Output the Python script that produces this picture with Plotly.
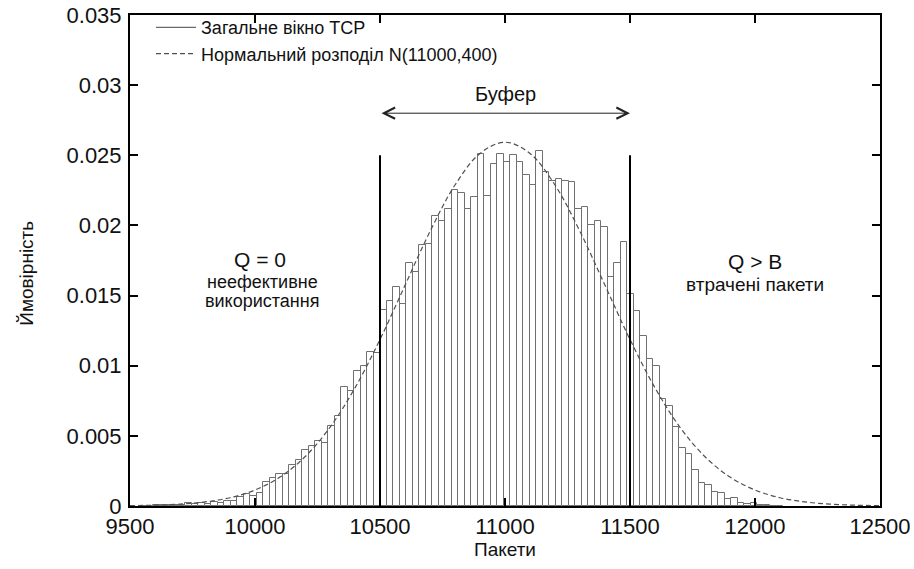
import plotly.graph_objects as go

# ---------------- data ----------------
bin_start = 9538          # left edge of the first histogram bin (packets)
bin_width = 26            # histogram bin width (packets)
probabilities = [
    # left tail
    0.00002, 0.00003, 0.00004, 0.00005, 0.00006, 0.00008, 0.0001,
    0.00019, 0.00015, 0.00024, 0.00015, 0.0003, 0.0002, 0.00038, 0.00038,
    0.00067, 0.00086, 0.00072,
    0.0009, 0.0017, 0.0020, 0.0023, 0.0023, 0.0029, 0.0033, 0.0040,
    0.0043, 0.0046, 0.0045,
    0.0057, 0.0064, 0.0085, 0.0082, 0.0096, 0.0100, 0.0110, 0.0109,
    # buffer region 10500..11500
    0.0140, 0.0146, 0.0156, 0.0144, 0.0173, 0.0167, 0.0186, 0.0187,
    0.0207, 0.0203, 0.0212, 0.0225, 0.0223, 0.0212, 0.0220, 0.0251,
    0.0221, 0.0244, 0.0251, 0.0245, 0.0250, 0.0245, 0.0236, 0.0229,
    0.0253, 0.0238, 0.0232, 0.0233, 0.0232, 0.0231, 0.0212, 0.0213,
    0.0200, 0.0203, 0.0199, 0.0163, 0.0173, 0.0188, 0.0151, 0.0139,
    # right tail
    0.0121, 0.0105, 0.0100, 0.0076, 0.0071, 0.0056, 0.0041, 0.0037,
    0.0026, 0.00166, 0.0015, 0.0010, 0.00095, 0.00048, 0.00055, 0.00024,
    0.00014, 0.00019, 0.00005, 0.00004, 0.00002, 0.00002,
]

# normal curve N(11000, 400) scaled to the bin width, read at 100-packet steps
normal_x = [9500, 9600, 9700, 9800, 9900, 10000, 10100, 10200, 10300, 10400,
            10500, 10600, 10700, 10800, 10900, 11000, 11100, 11200, 11300,
            11400, 11500, 11600, 11700, 11800, 11900, 12000, 12100, 12200,
            12300, 12400, 12500]
normal_y = [0.0000229, 0.0000567, 0.000132, 0.00029, 0.00059, 0.00114, 0.00206,
            0.00351, 0.00561, 0.00842, 0.01187, 0.01573, 0.01957, 0.02288,
            0.02513, 0.02593, 0.02513, 0.02288, 0.01957, 0.01573, 0.01187,
            0.00842, 0.00561, 0.00351, 0.00206, 0.00114, 0.00059, 0.00029,
            0.000132, 0.0000567, 0.0000229]

buffer_lo, buffer_hi = 10500, 11500
buffer_line_top = 0.025
arrow_y = 0.028
x_ticks = [9500, 10000, 10500, 11000, 11500, 12000, 12500]
x_ticktext = ["9500", "10000", "10500", "11000", "11500", "12000", "12500"]
y_ticks = [0, 0.005, 0.01, 0.015, 0.02, 0.025, 0.03, 0.035]
y_ticktext = ["0", "0.005", "0.01", "0.015", "0.02", "0.025", "0.03", "0.035"]

FONT = "Liberation Sans, Arial, sans-serif"
TXT = "#111"

centers = [bin_start + bin_width * (i + 0.5) for i in range(len(probabilities))]

fig = go.Figure()
fig.add_trace(go.Bar(
    x=centers, y=probabilities, width=bin_width,
    marker=dict(color="white", line=dict(color="#707070", width=1)),
    showlegend=False, hoverinfo="x+y",
))
# legend proxy for the histogram (line sample, as in the original)
fig.add_trace(go.Scatter(
    x=[None], y=[None], mode="lines", name="Загальне вікно TCP",
    line=dict(color="#6a6a6a", width=1.2),
))
fig.add_trace(go.Scatter(
    x=normal_x, y=normal_y, mode="lines", line_shape="spline",
    name="Нормальний розподіл N(11000,400)",
    line=dict(color="#505050", width=1.2, dash="5px,3px"),
))

# buffer boundaries
for xv in (buffer_lo, buffer_hi):
    fig.add_shape(type="line", x0=xv, x1=xv, y0=0, y1=buffer_line_top,
                  xref="x", yref="y", line=dict(color="black", width=2))

# double arrow "Буфер"
fig.add_annotation(x=buffer_hi, y=arrow_y, ax=buffer_lo, ay=arrow_y,
                   xref="x", yref="y", axref="x", ayref="y", text="",
                   showarrow=True, arrowhead=5, startarrowhead=5,
                   arrowside="end+start", arrowsize=2.2, startarrowsize=2.2,
                   arrowwidth=1, arrowcolor="#222", standoff=0, startstandoff=0)
fig.add_annotation(x=(buffer_lo + buffer_hi) / 2, y=0.0294, text="Буфер",
                   showarrow=False, font=dict(size=20, color=TXT, family=FONT))

# region labels
fig.add_annotation(x=10020, y=0.01755, text="Q = 0", showarrow=False,
                   font=dict(size=21, color=TXT, family=FONT))
fig.add_annotation(x=10028, y=0.01600, text="неефективне", showarrow=False,
                   font=dict(size=18, color=TXT, family=FONT))
fig.add_annotation(x=10028, y=0.01462, text="використання", showarrow=False,
                   font=dict(size=18, color=TXT, family=FONT))
fig.add_annotation(x=12000, y=0.01745, text="Q > B", showarrow=False,
                   font=dict(size=21, color=TXT, family=FONT))
fig.add_annotation(x=12000, y=0.0158, text="втрачені пакети", showarrow=False,
                   font=dict(size=19, color=TXT, family=FONT))

# y axis title (slightly below the middle, as in the original)
fig.add_annotation(x=0, y=0.474, xref="paper", yref="paper", xshift=-116,
                   text="Ймовірність", textangle=-90, showarrow=False,
                   font=dict(size=19, color=TXT, family=FONT))

axis_common = dict(
    showline=True, linecolor="black", linewidth=2, mirror="ticks",
    ticks="inside", ticklen=8, tickwidth=1.5, tickcolor="black",
    showgrid=False, zeroline=False, automargin=False,
    tickfont=dict(size=22, color=TXT, family=FONT),
)

fig.update_layout(
    width=914, height=569,
    margin=dict(l=130, r=34, t=15, b=63, autoexpand=False),
    paper_bgcolor="white", plot_bgcolor="white",
    bargap=0,
    font=dict(family=FONT, color=TXT),
    xaxis=dict(range=[9500, 12500], tickvals=x_ticks, ticktext=x_ticktext,
               title=dict(text="Пакети", font=dict(size=19, family=FONT), standoff=2),
               **axis_common),
    yaxis=dict(range=[0, 0.035], tickvals=y_ticks, ticktext=y_ticktext,
               ticklabelstandoff=2, **axis_common),
    legend=dict(x=0.028, y=1.012, xanchor="left", yanchor="top",
                bgcolor="rgba(0,0,0,0)", borderwidth=0,
                font=dict(size=18, family=FONT, color=TXT),
                itemwidth=40, tracegroupgap=0),
    showlegend=True,
)

fig.write_html("out.html")
